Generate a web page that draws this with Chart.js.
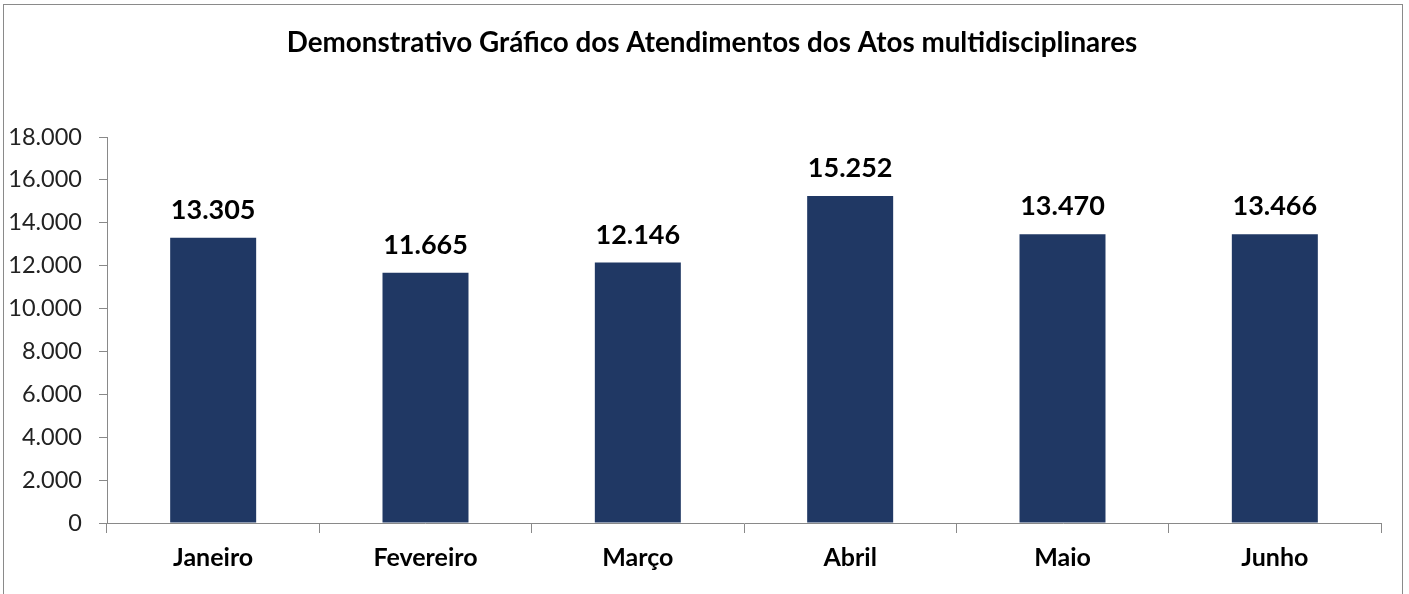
<!DOCTYPE html>
<html>
<head>
<meta charset="utf-8">
<script src="https://cdn.jsdelivr.net/npm/chart.js@4.4.1/dist/chart.umd.min.js"></script>
<style>
  html, body { margin: 0; padding: 0; background: #fff; overflow: hidden; }
  #wrap { position: relative; width: 1409px; height: 594px; }
  #frame { position: absolute; left: 3px; top: 4px; width: 1398px; height: 700px; border: 1px solid #8a8a8a; pointer-events: none; }
</style>
</head>
<body>
<div id="wrap">
  <canvas id="myChart" width="1409" height="594"></canvas>
  <div id="frame"></div>
</div>
<script>
const meses = ['Janeiro', 'Fevereiro', 'Março', 'Abril', 'Maio', 'Junho'];
const atendimentos = [13305, 11665, 12146, 15252, 13470, 13466];
const yMin = 0;
const yMax = 18000;
const yStep = 2000;
const titulo = 'Demonstrativo Gráfico dos Atendimentos dos Atos multidisciplinares';

// number like 13.305 (pt-BR thousands dot)
function fmt(v)
{
  return String(Math.round(v)).replace(/\B(?=(\d{3})+(?!\d))/g, '.');
}

const FONT = 'Lato, "Noto Sans", sans-serif';
const AXIS = '#898989';

// title (sits a little right of centre in the original) + values above each bar
const valueLabels = {
  id: 'valueLabels',
  afterDatasetsDraw(chart) {
    const ctx = chart.ctx;
    const meta = chart.getDatasetMeta(0);
    ctx.save();
    ctx.fillStyle = '#000000';
    ctx.textAlign = 'center';

    ctx.font = 'bold 27.8px ' + FONT;
    ctx.textBaseline = 'middle';
    ctx.fillText(titulo, 712, 42.7);

    ctx.font = 'bold 27px ' + FONT;
    ctx.textBaseline = 'alphabetic';
    meta.data.forEach((bar, i) => {
      ctx.fillText(fmt(atendimentos[i]), bar.x, bar.y - 19);
    });
    ctx.restore();
  }
};

const data = {
  labels: meses,
  datasets: [{
    label: 'Atendimentos',
    data: atendimentos,
    backgroundColor: '#203864',
    borderWidth: 0,
    barPercentage: 0.405,
    categoryPercentage: 1.0
  }]
};

const config = {
  type: 'bar',
  data: data,
  plugins: [valueLabels],
  options: {
    responsive: false,
    animation: false,
    layout: {
      padding: { left: 0, right: 28, top: 137, bottom: 0 }
    },
    plugins: {
      legend: { display: false },
      tooltip: { enabled: false },
      title: { display: false }
    },
    scales: {
      x: {
        grid: {
          display: true,
          drawOnChartArea: false,
          offset: true,
          tickLength: 10,
          color: AXIS
        },
        border: { color: AXIS, width: 1 },
        ticks: {
          color: '#000000',
          padding: 10,
          font: { family: FONT, size: 25, weight: 'bold' }
        },
        afterFit: s => { s.height = 71; }
      },
      y: {
        min: yMin,
        max: yMax,
        grid: {
          display: true,
          drawOnChartArea: false,
          tickLength: 8,
          color: AXIS
        },
        border: { color: AXIS, width: 1 },
        ticks: {
          stepSize: yStep,
          color: '#222222',
          padding: 17,
          font: { family: FONT, size: 23.5 },
          callback: v => fmt(v)
        },
        afterFit: s => { s.width = 107; }
      }
    }
  }
};

const myChart = new Chart(document.getElementById('myChart'), config);
</script>
</body>
</html>
